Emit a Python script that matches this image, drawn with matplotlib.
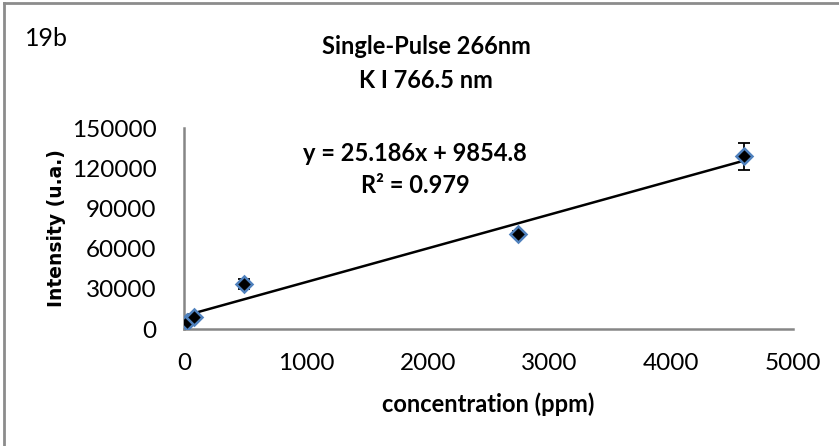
import matplotlib
matplotlib.use("Agg")
import matplotlib.pyplot as plt
from matplotlib.lines import Line2D

# K I 766.5 nm calibration, single-pulse 266 nm
concentration = [22, 75, 485, 2740, 4600]
intensity = [5500, 8800, 33500, 71000, 129000]
intensity_err = [600, 1000, 3500, 2000, 10000]

slope = 25.186
intercept = 9854.8
r_squared = 0.979

x_ticks = [0, 1000, 2000, 3000, 4000, 5000]
y_ticks = [0, 30000, 60000, 90000, 120000, 150000]

plt.rcParams['font.family'] = ['Lato', 'DejaVu Sans']

fig = plt.figure(figsize=(8.39, 4.46), dpi=100)
ax = fig.add_axes([0.2199, 0.2623, 0.7253, 0.4507])

# linear trendline over the measured range
x_fit = [min(concentration), max(concentration)]
y_fit = [slope * x + intercept for x in x_fit]
ax.plot(x_fit, y_fit, color='black', lw=1.8, zorder=2)

ax.errorbar(concentration, intensity, yerr=intensity_err, fmt='none',
            ecolor='black', elinewidth=1.3, capsize=4.5, capthick=1.3, zorder=3)
ax.plot(concentration, intensity, linestyle='none', marker='D', markersize=8.5,
        markerfacecolor='black', markeredgecolor='#4F81BD', markeredgewidth=1.8,
        zorder=4)

ax.set_xlim(0, 5000)
ax.set_ylim(0, 150000)
ax.set_xticks(x_ticks)
ax.set_yticks(y_ticks)
ax.tick_params(axis='both', length=0, labelsize=17.5, colors='black')
ax.tick_params(axis='x', pad=17)
ax.tick_params(axis='y', pad=20)

for side in ('top', 'right'):
    ax.spines[side].set_visible(False)
for side in ('left', 'bottom'):
    ax.spines[side].set_color('#868686')
    ax.spines[side].set_linewidth(1.8)

ax.set_xlabel('concentration (ppm)', fontsize=17, fontweight='bold')
ax.xaxis.set_label_coords(0.499, -0.373)
ax.xaxis.label.set_va('center')
ax.set_ylabel('Intensity (u.a.)', fontsize=13.5, fontweight='bold',
              family=['DejaVu Sans'])
ax.yaxis.set_label_coords(-0.211, 0.502)
ax.yaxis.label.set_va('center')

ax.text(0.379, 0.871, f'y = {slope}x + {intercept}', transform=ax.transAxes,
        ha='center', va='center', fontsize=17, fontweight='bold')
ax.text(0.379, 0.716, f'R² = {r_squared}', transform=ax.transAxes,
        ha='center', va='center', fontsize=17, fontweight='bold')

fig.text(426 / 839, 1 - 47 / 446, 'Single-Pulse 266nm', ha='center', va='center',
         fontsize=17, fontweight='bold')
fig.text(426 / 839, 1 - 80 / 446, 'K I 766.5 nm', ha='center', va='center',
         fontsize=17, fontweight='bold')
fig.text(25 / 839, 1 - 38 / 446, '19b', ha='left', va='center', fontsize=18)

# chart-area frame, open to the right and bottom edges
frame_kw = dict(color='#8C8C8C', lw=2, transform=fig.transFigure)
fig.add_artist(Line2D([4 / 839, 1.0], [1 - 3 / 446, 1 - 3 / 446], **frame_kw))
fig.add_artist(Line2D([4 / 839, 4 / 839], [1 - 3 / 446, 0.0], **frame_kw))

fig.savefig('out.png', dpi=100, facecolor='white')
